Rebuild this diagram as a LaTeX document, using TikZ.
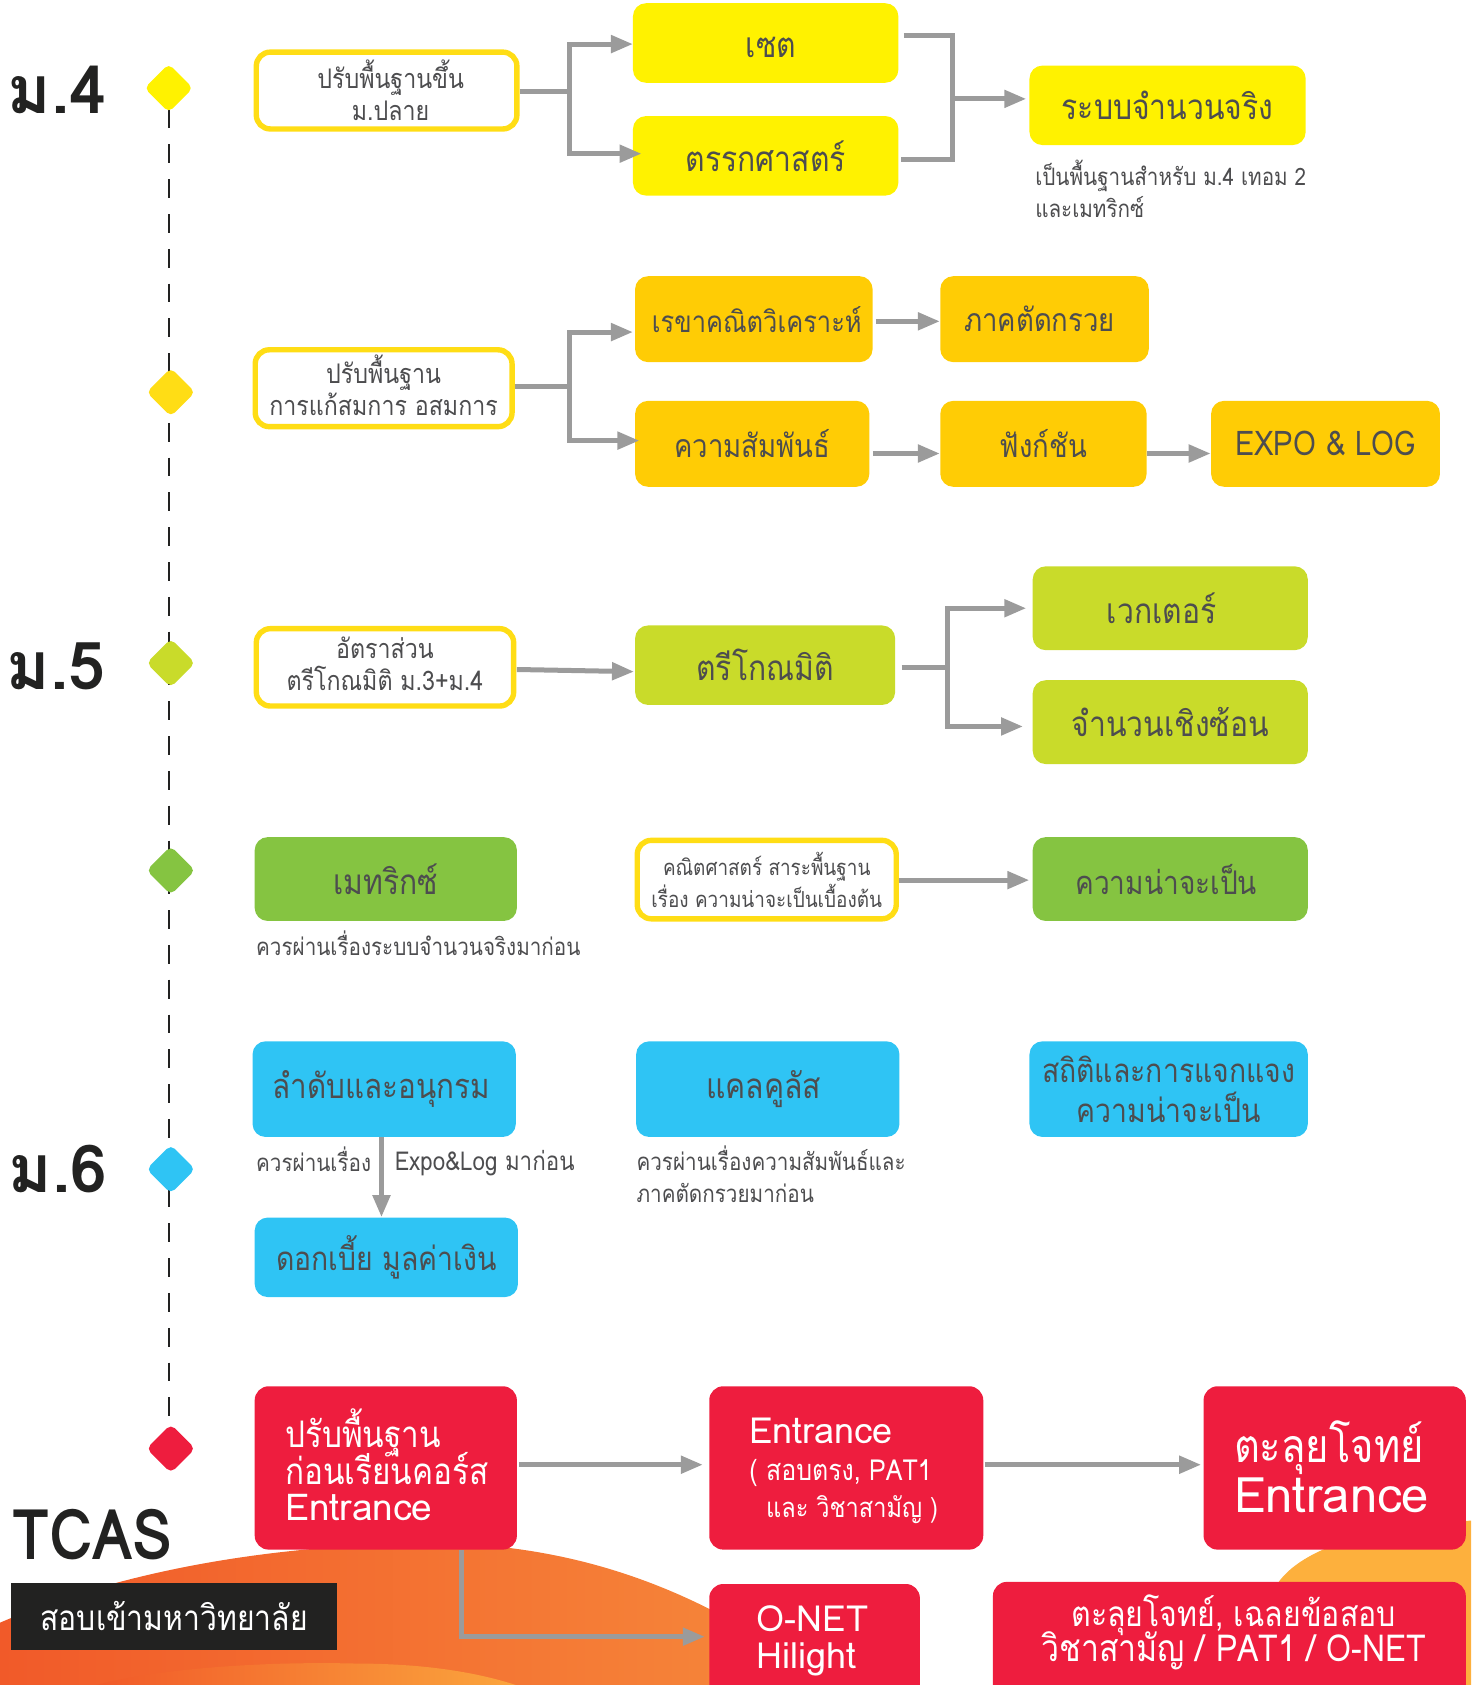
\documentclass[tikz,border=0pt]{standalone}
\usepackage{fontspec}
\setmainfont[Script=Thai,FakeStretch=0.86]{Loma}
\newfontfamily\latf[Script=Thai]{Loma}
\usetikzlibrary{arrows.meta,shapes.geometric}
\definecolor{yel}{HTML}{FFF200}
\definecolor{org}{HTML}{FFCC05}
\definecolor{outl}{HTML}{FFDD15}
\definecolor{oli}{HTML}{C9DB2A}
\definecolor{grn}{HTML}{85C441}
\definecolor{blu}{HTML}{2FC4F4}
\definecolor{rd}{HTML}{EE1D3E}
\definecolor{ink}{HTML}{4D4D4F}
\definecolor{gry}{HTML}{9B9B9B}
\definecolor{blk}{HTML}{222221}
\definecolor{hillA}{HTML}{F15A29}
\definecolor{hillB}{HTML}{F6873A}
\definecolor{hillC}{HTML}{FBA53D}
\definecolor{hillD}{HTML}{FDB03D}
\newcommand{\unitpt}{0.53725}
\newcommand{\fs}[2]{\lineskiplimit=-60pt\fontsize{#1pt}{#2pt}\selectfont}
\newcommand{\bx}[7]{%
  \pgfmathsetmacro\bxcx{(#2+#4)/2}\pgfmathsetmacro\bxcy{(#3+#5)/2}%
  \pgfmathsetmacro\bxw{(#4-#2)*\unitpt}\pgfmathsetmacro\bxh{(#5-#3)*\unitpt}%
  \node[#6,minimum width=\bxw pt,minimum height=\bxh pt] (#1) at (\bxcx,\bxcy) {#7};}
\tikzset{
  card/.style={rounded corners=6.5pt,inner sep=0pt,align=center,text=ink,fill=#1},
  ring/.style={rounded corners=7pt,inner sep=0pt,align=center,text=ink,fill=white,draw=outl,line width=2.7pt},
  redcard/.style={rounded corners=7pt,inner sep=0pt,align=center,text=white,fill=rd},
  lab/.style={inner sep=0pt,align=center,text=ink},
  conn/.style={draw=gry,line width=2.5pt},
  arr/.style={conn,-{Triangle[length=11pt,width=8.5pt]}},
  dia/.style={rectangle,rotate=45,rounded corners=2.8pt,minimum size=17.2pt,inner sep=0pt,fill=#1},
  head/.style={anchor=west,inner sep=0pt,text=blk,font=\latf\fs{33}{36}\bfseries},
  note/.style={anchor=west,inner sep=0pt,align=left,text=ink,font=\fs{12}{16}},
  sm/.style={font=\fs{13.5}{16}},
  md/.style={font=\fs{16}{20}},
  lg/.style={font=\fs{17.5}{20}},
}
\begin{document}
\begin{tikzpicture}[x=0.53725pt,y=-0.53725pt]
\useasboundingbox (0,0) rectangle (1369,1568);
\clip (0,0) rectangle (1369,1568);
% background shapes
\shade[left color=hillA,right color=hillB] (0,1510) .. controls (70,1480) and (200,1438) .. (400,1436) .. controls (520,1436) and (610,1470) .. (675,1505) -- (730,1568) -- (0,1568) -- cycle;
\shade[left color=hillA,right color=hillC] (90,1568) .. controls (150,1552) and (250,1546) .. (330,1548) .. controls (390,1548) and (440,1555) .. (480,1568) -- cycle;
\fill[hillD] (1185,1480) .. controls (1205,1440) and (1280,1420) .. (1369,1415) -- (1369,1568) -- (1185,1568) -- cycle;
% timeline
\coordinate (tl) at (157,102);
\coordinate (tlend) at (157,1330);
\draw[blk,line width=1.1pt,dash pattern=on 9.4pt off 8pt] (tl) -- (tlend);
% diamonds
\node[dia=yel] (d1) at (157,82) {};
\node[dia=outl] (d2) at (159,365) {};
\node[dia=oli] (d3) at (159,617) {};
\node[dia=grn] (d4) at (159,810) {};
\node[dia=blu] (d5) at (159,1088) {};
\node[dia=rd] (d6) at (159,1348) {};
% headings
\node[head] (h4) at (7,84) {ม.4};
\node[head] (h5) at (6,620) {ม.5};
\node[head] (h6) at (8,1088) {ม.6};
\node[head,font=\fs{35}{36}\bfseries] (hT) at (11,1428) {TCAS};
\bx{tag}{10}{1473}{314}{1535}{fill=blk,inner sep=0pt,text=white,font=\fs{17.5}{20}}{สอบเข้ามหาวิทยาลัย}
% row 1
\bx{p1}{238.5}{48.5}{481}{120}{ring}{}
\node[lab,sm,xshift=2pt] (p1t) at (p1) {ปรับพื้นฐานขึ้น\\ม.ปลาย};
\bx{set}{589}{3}{836}{77}{card=yel}{}
\node[lab,lg,xshift=2.7pt,yshift=-2pt] (sett) at (set) {เซต};
\bx{trk}{589}{108}{836}{182}{card=yel,lg}{ตรรกศาสตร์}
\bx{real}{958}{61}{1215}{135}{card=yel,lg}{ระบบจำนวนจริง}
\node[note] (n1) at (963,176) {เป็นพื้นฐานสำหรับ ม.4 เทอม 2\\และเมทริกซ์};
% row 2
\bx{p2}{237.5}{325.5}{476.5}{397}{ring}{}
\node[lab,sm,yshift=1.6pt] (p2t) at (p2) {ปรับพื้นฐาน\\การแก้สมการ อสมการ};
\bx{geo}{591}{257}{812}{337}{card=org}{}
\node[lab,font=\fs{14.8}{20},xshift=1.5pt] (geot) at (geo) {เรขาคณิตวิเคราะห์};
\bx{con}{875}{257}{1069}{337}{card=org}{}
\node[lab,md,xshift=-2.5pt] (cont) at (con) {ภาคตัดกรวย};
\bx{rel}{591}{373}{809}{453}{card=org,md}{ความสัมพันธ์}
\bx{fun}{875}{373}{1067}{453}{card=org,md}{ฟังก์ชัน}
\bx{expo}{1127}{373}{1340}{453}{card=org,font=\fs{17}{20}}{EXPO \& LOG}
% row 3
\bx{p3}{238.5}{585}{478}{657}{ring}{}
\node[lab,sm,yshift=1.6pt] (p3t) at (p3) {อัตราส่วน\\ตรีโกณมิติ ม.3+ม.4};
\bx{tri}{591}{582}{833}{656}{card=oli,lg}{ตรีโกณมิติ}
\bx{vec}{961}{527}{1217}{605}{card=oli}{}
\node[lab,lg,xshift=-4.3pt] (vect) at (vec) {เวกเตอร์};
\bx{cpx}{961}{633}{1217}{711}{card=oli,lg}{จำนวนเชิงซ้อน}
% row 4
\bx{mat}{237}{779}{481}{857}{card=grn,lg}{เมทริกซ์}
\bx{bas}{593}{782}{834}{855}{ring,font=\fs{11}{16}}{คณิตศาสตร์ สาระพื้นฐาน\\เรื่อง ความน่าจะเป็นเบื้องต้น}
\bx{pro}{961}{779}{1217}{857}{card=grn}{}
\node[lab,font=\fs{16.3}{20},xshift=-2pt] (prot) at (pro) {ความน่าจะเป็น};
\node[note] (n2) at (238,878) {ควรผ่านเรื่องระบบจำนวนจริงมาก่อน};
% row 5
\bx{seq}{235}{969}{480}{1058}{card=blu}{}
\node[lab,font=\fs{17.2}{20},xshift=-1.5pt] (seqt) at (seq) {ลำดับและอนุกรม};
\bx{cal}{592}{969}{837}{1058}{card=blu}{}
\node[lab,lg,xshift=-2pt] (calt) at (cal) {แคลคูลัส};
\bx{sta}{958}{969}{1217}{1058}{card=blu,font=\fs{16.5}{20}}{สถิติและการแจกแจง\\ความน่าจะเป็น}
\bx{int}{237}{1133}{482}{1207}{card=blu,font=\fs{16.5}{20}}{ดอกเบี้ย มูลค่าเงิน}
\node[note] (n3) at (238,1079) {ควรผ่านเรื่อง};
\node[note,font=\fs{13}{16}] (n4) at (367,1082) {Expo\&Log มาก่อน};
\node[note,anchor=north west] (n5) at (592,1066) {ควรผ่านเรื่องความสัมพันธ์และ\\ภาคตัดกรวยมาก่อน};
% row 6
\bx{r1}{237}{1290}{481}{1442}{redcard}{}
\node[anchor=west,inner sep=0pt,align=left,text=white,font=\fs{18.3}{18.3}] (r1t) at (265,1363) {ปรับพื้นฐาน\\ก่อนเรียนคอร์ส\\{\latf\fs{18.5}{18.3}Entrance}};
\bx{r2}{660}{1290}{915}{1442}{redcard}{}
\node[anchor=west,inner sep=0pt,align=left,text=white,font=\fs{14.5}{18.5}] (r2t) at (697,1369) {{\latf\fs{18}{18.5}Entrance}\\( สอบตรง, PAT1\\\ \ {\fs{13.7}{18.5}และ วิชาสามัญ )}};
\bx{r3}{1120}{1290}{1364}{1442}{redcard}{}
\node[anchor=west,inner sep=0pt,align=left,text=white,font=\fs{23.2}{25}] (r3t) at (1148,1365) {ตะลุยโจทย์\\{\latf\fs{24.5}{25}Entrance}};
\bx{r4}{660}{1474}{856}{1590}{redcard}{}
\node[inner sep=0pt,align=left,text=white,font=\latf\fs{18}{18.8}] (r4t) at (756,1527) {O-NET\\Hilight};
\bx{r5}{924}{1472}{1364}{1590}{redcard}{}
\node[inner sep=0pt,align=center,text=white,font=\fs{17.6}{17.7}] (r5t) at (1148,1519) {ตะลุยโจทย์, เฉลยข้อสอบ\\{\fs{18.6}{17.7}วิชาสามัญ / PAT1 / O-NET}};
% connectors row 1
\coordinate (j1) at (530,85);
\coordinate (j1a) at (589,41);
\coordinate (j1b) at (597,143);
\draw[conn] (p1.east |- j1) -- (j1);
\draw[arr] (j1 |- j1a) -- (j1a);
\draw[arr] (j1 |- j1b) -- (j1b);
\draw[conn,line cap=rect] (j1 |- j1a) -- (j1 |- j1b);
\coordinate (a1) at (841,33);
\coordinate (a2) at (838,148);
\coordinate (j2) at (886,92);
\coordinate (a3) at (955,92);
\draw[conn] (a1) -- (j2 |- a1) -- (j2 |- a2) -- (a2);
\draw[arr] (j2) -- (a3);
% row 2
\coordinate (j3) at (530,360);
\coordinate (j3a) at (589,309);
\coordinate (j3b) at (595,410);
\draw[conn] (p2.east |- j3) -- (j3);
\draw[arr] (j3 |- j3a) -- (j3a);
\draw[arr] (j3 |- j3b) -- (j3b);
\draw[conn,line cap=rect] (j3 |- j3a) -- (j3 |- j3b);
\coordinate (y2a) at (0,299);
\coordinate (y2b) at (0,422);
\draw[arr] ([xshift=1.5pt]geo.east |- y2a) -- (con.west |- y2a);
\draw[arr] ([xshift=1.5pt]rel.east |- y2b) -- (fun.west |- y2b);
\draw[arr] (fun.east |- y2b) -- (expo.west |- y2b);
% row 3
\coordinate (q1) at (481,623);
\coordinate (q2) at (590,625);
\draw[arr] (q1) -- (q2);
\coordinate (j4) at (882,621);
\coordinate (j4a) at (955,566);
\coordinate (j4b) at (952,676);
\draw[conn] ([xshift=3pt]tri.east |- j4) -- (j4);
\draw[conn,line cap=rect] (j4 |- j4a) -- (j4 |- j4b);
\draw[arr] (j4 |- j4a) -- (j4a);
\draw[arr] (j4 |- j4b) -- (j4b);
% row 4
\coordinate (y4) at (0,819);
\draw[arr] (bas.east |- y4) -- ([xshift=-1.5pt]pro.west |- y4);
% row 5
\coordinate (v1) at (355,0);
\draw[arr] (v1 |- seq.south) -- (v1 |- int.north);
% row 6
\coordinate (y6) at (0,1363);
\draw[arr] ([xshift=1pt]r1.east |- y6) -- ([xshift=-3pt]r2.west |- y6);
\draw[arr] ([xshift=0.5pt]r2.east |- y6) -- ([xshift=-1pt]r3.west |- y6);
\coordinate (e1) at (429,1523);
\draw[arr] (e1 |- r1.south) -- (e1) -- ([xshift=-2pt]r4.west |- e1);
\end{tikzpicture}
\end{document}
